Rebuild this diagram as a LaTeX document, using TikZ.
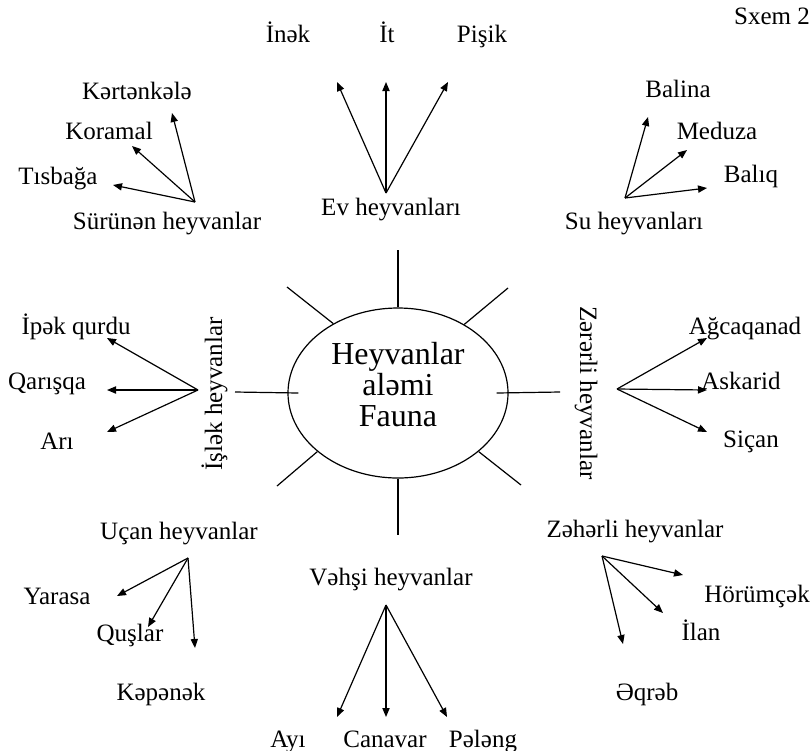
\documentclass[tikz,border=0pt]{standalone}
\usepackage{fontspec}
\setmainfont{Liberation Serif}
\usetikzlibrary{shapes}
\usetikzlibrary{positioning}
\usetikzlibrary{arrows.meta}
\tikzset{
    mylabel/.style = {inner sep=0pt, text height=9pt, text depth=2pt, font=\fontsize{12.5}{14}\selectfont, text=black},
    mytitle/.style = {inner sep=0pt, align=center, font=\fontsize{16}{15.5}\selectfont, text=black},
    myoval/.style = {ellipse, draw=black, line width=0.6pt, minimum width=110pt, minimum height=85pt, inner sep=0pt},
    edgen/.style = {-, line width=0.6pt, black}, % spokes
    edgea/.style = {-{Triangle[length=4.5pt,width=3.6pt]}, line width=0.6pt, black}, % arrows
}

\begin{document}
\begin{tikzpicture}[x=0.5pt,y=-0.5pt]
\useasboundingbox (0,0) rectangle (812,750);
\node[mylabel] at (772,17) (sxem) {Sxem 2};
% centre
\node[myoval] at (398,393) (fauna) {};
\node[mytitle] at (398,385) (faunat) {Heyvanlar\\aləmi\\Fauna};
%
\node[mylabel] at (391,208) (ev) {Ev heyvanları};
\node[mylabel] at (167,222) (surunen) {Sürünən heyvanlar};
\node[mylabel] at (634,222) (su) {Su heyvanları};
\node[mylabel, rotate=90] at (215,394) (islek) {İşlək heyvanlar};
\node[mylabel, rotate=-90] at (587,393) (zererli) {Zərərli heyvanlar};
\node[mylabel] at (179,532) (ucan) {Uçan heyvanlar};
\node[mylabel] at (391,578) (vehsi) {Vəhşi heyvanlar};
\node[mylabel] at (635,530) (zeherli) {Zəhərli heyvanlar};
%
\node[mylabel] at (288,35) (inek) {İnək};
\node[mylabel] at (387,35) (it) {İt};
\node[mylabel] at (482,35) (pisik) {Pişik};
\node[mylabel] at (137,92) (kertenkele) {Kərtənkələ};
\node[mylabel] at (109,132) (koramal) {Koramal};
\node[mylabel] at (58,177) (tisbaga) {Tısbağa};
\node[mylabel] at (678,90) (balina) {Balina};
\node[mylabel] at (717,132) (meduza) {Meduza};
\node[mylabel] at (751,175) (baliq) {Balıq};
\node[mylabel] at (76,327) (ipek) {İpək qurdu};
\node[mylabel] at (47,382) (qarisqa) {Qarışqa};
\node[mylabel] at (57,442) (ari) {Arı};
\node[mylabel] at (745,327) (agcaqanad) {Ağcaqanad};
\node[mylabel] at (741,382) (askarid) {Askarid};
\node[mylabel] at (751,440) (sican) {Siçan};
\node[mylabel] at (57,597) (yarasa) {Yarasa};
\node[mylabel] at (130,634) (quslar) {Quşlar};
\node[mylabel] at (161,693) (kepenek) {Kəpənək};
\node[mylabel] at (288,740) (ayi) {Ayı};
\node[mylabel] at (385,740) (canavar) {Canavar};
\node[mylabel] at (483,740) (peleng) {Pələng};
\node[mylabel] at (757,595) (horumcek) {Hörümçək};
\node[mylabel] at (701,633) (ilan) {İlan};
\node[mylabel] at (647,693) (eqreb) {Əqrəb};
%
\coordinate (s1) at (398,250);
\coordinate (s2) at (508,288);
\coordinate (s3) at (560,392);
\coordinate (s4) at (521,485);
\coordinate (s5) at (398,535);
\coordinate (s6) at (277,486);
\coordinate (s7) at (235,392);
\coordinate (s8) at (287,287);
\draw[edgen] (fauna.north) -- (s1);
\draw[edgen] (fauna.46) -- (s2);
\draw[edgen] ([xshift=-6pt]fauna.east) -- (s3);
\draw[edgen] (fauna.324) -- (s4);
\draw[edgen] (fauna.south) -- (s5);
\draw[edgen] (fauna.216) -- (s6);
\draw[edgen] ([xshift=5.5pt]fauna.west) -- (s7);
\draw[edgen] (fauna.133) -- (s8);
%
\coordinate (evo) at (386,193);
\coordinate (inekp) at (337,82);
\coordinate (itp) at (386,82);
\coordinate (pisikp) at (448,82);
\draw[edgea] (evo) -- (inekp);
\draw[edgea] (evo) -- (itp);
\draw[edgea] (evo) -- (pisikp);
%
\coordinate (suruneno) at (195,202);
\coordinate (kertenkelep) at (172,113);
\coordinate (koramalp) at (132,146);
\coordinate (tisbagap) at (113,185);
\draw[edgea] (suruneno) -- (kertenkelep);
\draw[edgea] (suruneno) -- (koramalp);
\draw[edgea] (suruneno) -- (tisbagap);
%
\coordinate (suo) at (625,198);
\coordinate (balinap) at (648,117);
\coordinate (meduzap) at (687,150);
\coordinate (baliqp) at (707,188);
\draw[edgea] (suo) -- (balinap);
\draw[edgea] (suo) -- (meduzap);
\draw[edgea] (suo) -- (baliqp);
%
\coordinate (isleko) at (198,390);
\coordinate (ipekp) at (107,338);
\coordinate (qarisqap) at (107,390);
\coordinate (arip) at (107,432);
\draw[edgea] (isleko) -- (ipekp);
\draw[edgea] (isleko) -- (qarisqap);
\draw[edgea] (isleko) -- (arip);
%
\coordinate (zererlio) at (617,389);
\coordinate (agcaqanadp) at (707,338);
\coordinate (askaridp) at (707,390);
\coordinate (sicanp) at (707,432);
\draw[edgea] (zererlio) -- (agcaqanadp);
\draw[edgea] (zererlio) -- (askaridp);
\draw[edgea] (zererlio) -- (sicanp);
%
\coordinate (ucano) at (188,558);
\coordinate (yarasap) at (117,596);
\coordinate (quslarp) at (148,627);
\coordinate (kepenekp) at (195,648);
\draw[edgea] (ucano) -- (yarasap);
\draw[edgea] (ucano) -- (quslarp);
\draw[edgea] (ucano) -- (kepenekp);
%
\coordinate (vehsio) at (386,605);
\coordinate (ayip) at (337,717);
\coordinate (canavarp) at (386,717);
\coordinate (pelengp) at (447,717);
\draw[edgea] (vehsio) -- (ayip);
\draw[edgea] (vehsio) -- (canavarp);
\draw[edgea] (vehsio) -- (pelengp);
%
\coordinate (zeherlio) at (602,556);
\coordinate (horumcekp) at (683,575);
\coordinate (ilanp) at (663,613);
\coordinate (eqrebp) at (623,644);
\draw[edgea] (zeherlio) -- (horumcekp);
\draw[edgea] (zeherlio) -- (ilanp);
\draw[edgea] (zeherlio) -- (eqrebp);
\end{tikzpicture}
\end{document}
